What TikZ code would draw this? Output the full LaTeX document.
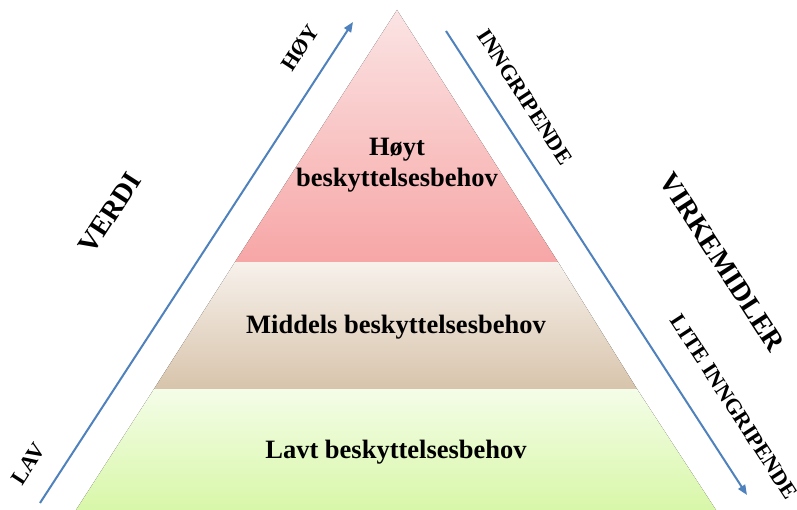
\documentclass[tikz,border=0pt]{standalone}
\usepackage{fontspec}
\setmainfont{Liberation Serif}
\usetikzlibrary{arrows.meta}
\definecolor{pinktop}{RGB}{251,228,228}
\definecolor{pinkbot}{RGB}{247,166,166}
\definecolor{browntop}{RGB}{247,241,235}
\definecolor{brownbot}{RGB}{216,196,172}
\definecolor{greentop}{RGB}{244,253,232}
\definecolor{greenbot}{RGB}{216,247,168}
\definecolor{axisblue}{RGB}{79,129,189}
\tikzset{layertext/.style={font=\bfseries\fontsize{26.5}{31}\selectfont, align=center},
  smalllbl/.style={font=\bfseries\fontsize{22}{26}\selectfont},
  biglbl/.style={font=\bfseries\fontsize{28}{32}\selectfont},
  axis/.style={axisblue, line width=2pt, -{Triangle[length=10pt,width=8pt]}}}

\begin{document}
\begin{tikzpicture}[x=1pt,y=1pt]
\useasboundingbox (0,0) rectangle (797,510);
% layers
\fill[top color=greentop, bottom color=greenbot] (76,0) -- (154,121) -- (637,121) -- (716,0) -- cycle;
\fill[top color=browntop, bottom color=brownbot] (154,121) -- (235,248) -- (558,248) -- (637,121) -- cycle;
\fill[top color=pinktop, bottom color=pinkbot] (235,248) -- (397,500) -- (558,248) -- cycle;

\node[layertext] (high) at (397,345) {Høyt\\beskyttelsesbehov};
\node[layertext] (mid)  at (396,183) {Middels beskyttelsesbehov};
\node[layertext] (low)  at (396,58)  {Lavt beskyttelsesbehov};

% arrows
\coordinate (vstart) at (40,7);
\coordinate (vend)   at (353,488);
\coordinate (kstart) at (446,479);
\coordinate (kend)   at (747,15);
\draw[axis] (vstart) -- (vend);
\draw[axis] (kstart) -- (kend);

\node[smalllbl, rotate=57] (hoy) at (300,462) {HØY};
\node[biglbl, rotate=57] (verdi) at (110,297) {VERDI};
\node[smalllbl, rotate=57] (lav) at (28,46) {LAV};
\node[smalllbl, rotate=-57] (inngr) at (525,413) {INNGRIPENDE};
\node[biglbl, rotate=-57] (virke) at (722,248) {VIRKEMIDLER};
\node[smalllbl, rotate=-57] (lite) at (734,103) {LITE INNGRIPENDE};
\end{tikzpicture}
\end{document}
